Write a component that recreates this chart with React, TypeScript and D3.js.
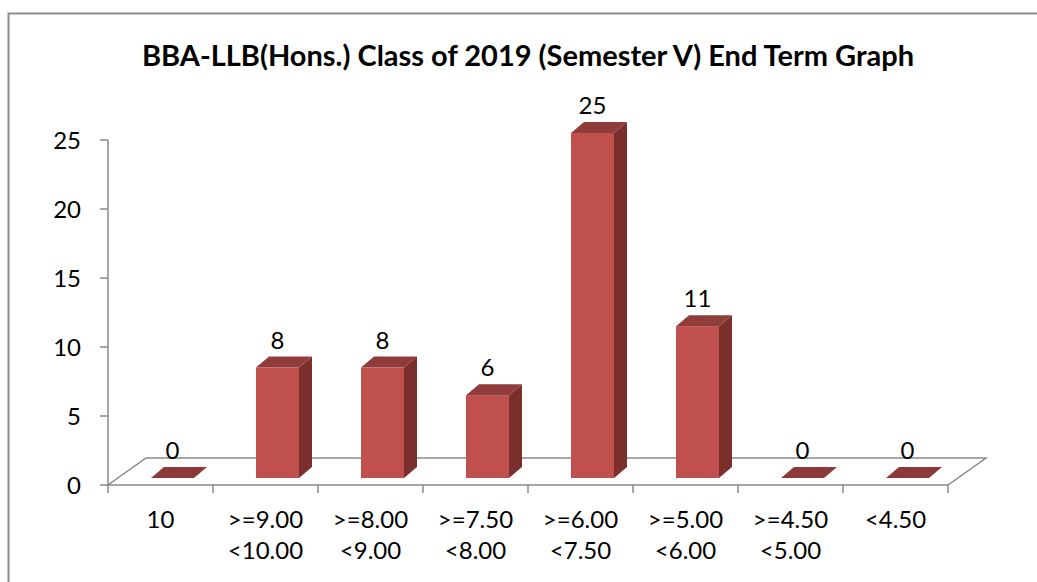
import React from "react";
import * as d3 from "d3";

const title = "BBA-LLB(Hons.) Class of 2019 (Semester V) End Term Graph";
const categories = ["10", ">=9.00 <10.00", ">=8.00 <9.00", ">=7.50 <8.00", ">=6.00 <7.50", ">=5.00 <6.00", ">=4.50 <5.00", "<4.50"];
const categoryLines = [["10"], [">=9.00", "<10.00"], [">=8.00", "<9.00"], [">=7.50", "<8.00"], [">=6.00", "<7.50"], [">=5.00", "<6.00"], [">=4.50", "<5.00"], ["<4.50"]];
const values = [0, 8, 8, 6, 25, 11, 0, 0];
const yTicks = [0, 5, 10, 15, 20, 25];

const W = 1037;
const H = 582;
const FONT = "Lato, Carlito, Calibri, 'Open Sans', sans-serif";

export default function App() {
  const x = d3.scaleBand<string>().domain(categories).range([108, 948]).padding(0);
  const y = d3.scaleLinear().domain([0, 25]).range([485, 140]);
  const bw = x.bandwidth();
  // floor depth
  const fdx = 38, fdy = -27;
  // bar placement within depth
  const bShiftY = -7;
  const bLeft = 43, bWidth = 43;
  const dx = 13, dy = -11;
  const axisCol = "#8a8a8a";

  const x0 = x.range()[0];
  const x1 = x.range()[1];
  const yz = y(0);

  return (
    <svg width={W} height={H} style={{ position: "absolute", left: 0, top: 0, background: "#fff" }}>
      <rect x={0} y={0} width={W} height={H} fill="#fff" />
      {/* outer border */}
      <path d={`M8.5,${H} L8.5,13.5 L${W},13.5`} fill="none" stroke="#8c8c8c" strokeWidth={2} />
      <text x={528} y={66} textAnchor="middle" fontFamily={FONT} fontWeight="bold" fontSize={29} fill="#000">
        {title}
      </text>

      {/* floor */}
      <path
        d={`M${x0},${yz} L${x1},${yz} L${x1 + fdx},${yz + fdy} L${x0 + fdx},${yz + fdy} Z`}
        fill="#fff"
        stroke={axisCol}
        strokeWidth={1.5}
      />
      {/* value axis */}
      <line x1={x0} x2={x0} y1={y(25)} y2={yz} stroke={axisCol} strokeWidth={1.5} />
      {yTicks.map((t) => (
        <g key={t}>
          <line x1={x0 - 8} x2={x0} y1={y(t)} y2={y(t)} stroke={axisCol} strokeWidth={1.5} />
          <text x={81} y={y(t) + 9} textAnchor="end" fontFamily={FONT} fontSize={24} fill="#000">
            {t}
          </text>
        </g>
      ))}
      {/* category ticks */}
      {categories.map((c) => (
        <line key={c} x1={x(c)!} x2={x(c)!} y1={yz} y2={yz + 8} stroke={axisCol} strokeWidth={1.5} />
      ))}
      <line x1={x1} x2={x1} y1={yz} y2={yz + 8} stroke={axisCol} strokeWidth={1.5} />

      {/* bars */}
      {categories.map((c, i) => {
        const v = values[i];
        const fx = x(c)! + bLeft;
        const fb = yz + bShiftY;
        const ft = y(v) + bShiftY;
        const h = fb - ft;
        return (
          <g key={c}>
            {h > 0 && (
              <>
                <rect x={fx} y={ft} width={bWidth} height={h} fill="#C0504D" />
                <path
                  d={`M${fx + bWidth},${ft} L${fx + bWidth + dx},${ft + dy} L${fx + bWidth + dx},${fb + dy} L${fx + bWidth},${fb} Z`}
                  fill="#7B2F2D"
                />
              </>
            )}
            <path
              d={`M${fx},${ft} L${fx + bWidth},${ft} L${fx + bWidth + dx},${ft + dy} L${fx + dx},${ft + dy} Z`}
              fill={h > 0 ? "#903C3A" : "#8C3A39"}
            />
            <text x={fx + bWidth / 2} y={ft + dy - 8} textAnchor="middle" fontFamily={FONT} fontSize={24} fill="#000">
              {v}
            </text>
          </g>
        );
      })}

      {/* category labels */}
      {categories.map((c, i) => (
        <text key={c} textAnchor="middle" fontFamily={FONT} fontSize={24} fill="#000">
          {categoryLines[i].map((ln, j) => (
            <tspan key={j} x={x(c)! + bw / 2} y={528 + j * 31}>
              {ln}
            </tspan>
          ))}
        </text>
      ))}
    </svg>
  );
}
